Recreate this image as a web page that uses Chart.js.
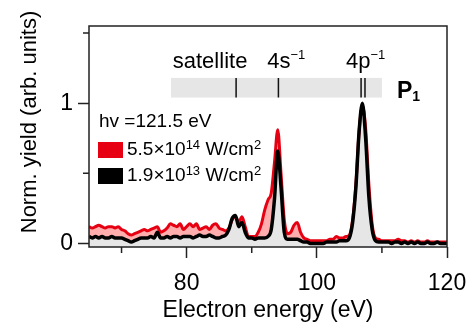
<!DOCTYPE html>
<html>
<head>
<meta charset="utf-8">
<script src="https://cdn.jsdelivr.net/npm/chart.js@4.4.0/dist/chart.umd.min.js"></script>
<style>
html, body { margin: 0; padding: 0; background: #fff; }
</style>
</head>
<body>
<canvas id="spec" width="471" height="325"></canvas>
<script>
// electron energy grid (eV)
const energy = [
  65, 65.5, 66, 66.5, 67, 67.5, 68, 68.5, 69, 69.5,
  70, 70.5, 71, 71.5, 72, 72.5, 73, 73.5, 74, 74.5,
  75, 75.5, 76, 76.5, 77, 77.5, 78, 78.5, 79, 79.5,
  80, 80.5, 81, 81.5, 82, 82.5, 83, 83.5, 84, 84.5,
  85, 85.5, 86, 86.5, 87, 87.5, 88, 88.5, 89, 89.5,
  90, 90.5, 91, 91.5, 92, 92.5, 93, 93.5, 94, 94.5,
  95, 95.5, 96, 96.5, 97, 97.5, 98, 98.5, 99, 99.5,
  100, 100.5, 101, 101.5, 102, 102.5, 103, 103.5, 104, 104.5,
  105, 105.5, 106, 106.5, 107, 107.5, 108, 108.5, 109, 109.5,
  110, 110.5, 111, 111.5, 112, 112.5, 113, 113.5, 114, 114.5,
  115, 115.5, 116, 116.5, 117, 117.5, 118, 118.5, 119, 119.5,
  120
];

// 5.5x10^14 W/cm2
const yieldHigh = [
  0.12, 0.11, 0.12, 0.13, 0.12, 0.11, 0.12, 0.12, 0.11, 0.12,
  0.10, 0.09, 0.07, 0.06, 0.07, 0.08, 0.09, 0.10, 0.09, 0.10,
  0.11, 0.12, 0.08, 0.09, 0.11, 0.14, 0.13, 0.12, 0.14, 0.10,
  0.12, 0.14, 0.12, 0.14, 0.10, 0.11, 0.12, 0.10, 0.13, 0.14,
  0.11, 0.10, 0.09, 0.11, 0.17, 0.19, 0.15, 0.19, 0.12, 0.05,
  0.05, 0.05, 0.08, 0.14, 0.24, 0.31, 0.36, 0.58, 0.81, 0.50,
  0.17, 0.07, 0.08, 0.13, 0.15, 0.08, 0.04, 0.03, 0.02, 0.02,
  0.02, 0.02, 0.02, 0.02, 0.03, 0.03, 0.05, 0.04, 0.04, 0.05,
  0.06, 0.17, 0.42, 0.80, 0.98, 0.82, 0.42, 0.14, 0.04, 0.03,
  0.02, 0.02, 0.02, 0.02, 0.02, 0.03, 0.02, 0.02, 0.01, 0.02,
  0.01, 0.02, 0.01, 0.01, 0.02, 0.01, 0.01, 0.01, 0.01, 0.01,
  0.01
];

// 1.9x10^13 W/cm2
const yieldLow = [
  0.05, 0.04, 0.05, 0.04, 0.05, 0.04, 0.04, 0.05, 0.04, 0.04,
  0.04, 0.03, 0.02, 0.01, 0.02, 0.03, 0.04, 0.04, 0.04, 0.05,
  0.04, 0.08, 0.04, 0.04, 0.05, 0.04, 0.05, 0.05, 0.04, 0.05,
  0.05, 0.05, 0.04, 0.05, 0.06, 0.05, 0.05, 0.06, 0.05, 0.04,
  0.04, 0.05, 0.06, 0.10, 0.18, 0.20, 0.12, 0.15, 0.08, 0.04,
  0.04, 0.03, 0.04, 0.04, 0.04, 0.05, 0.10, 0.32, 0.66, 0.40,
  0.08, 0.03, 0.03, 0.03, 0.03, 0.02, 0.01, 0.01, 0.00, 0.00,
  0.00, 0.00, 0.00, 0.01, 0.01, 0.01, 0.01, 0.02, 0.02, 0.02,
  0.04, 0.15, 0.40, 0.80, 1.00, 0.75, 0.33, 0.10, 0.02, 0.01,
  0.01, 0.01, 0.01, 0.00, 0.01, 0.01, 0.00, 0.01, 0.00, 0.01,
  0.00, 0.01, 0.00, 0.00, 0.01, 0.00, 0.00, 0.01, 0.00, 0.00,
  0.00
];

// ticks
const xMajor = [80, 100, 120];
const xMinor = [70, 90, 110];
const yMajor = [0, 1];
const yMinor = [0.5, 1.5];

// final states marked above the spectrum
const stateNames = ['satellite', '4s', '4p'];
const stateSups = ['', '\u22121', '\u22121'];
const stateNameAt = [83.6, 95.3, 107.5];
const stateLines = [87.6, 94.1, 106.8, 107.4];
const stateBand = [77.6, 110];

const seriesNames = ['1.9\u00d710', '5.5\u00d710'];
const seriesExps = ['13', '14'];
const photonLabel = 'hv =121.5 eV';

const FONT = '"Liberation Sans", Arial, Helvetica, sans-serif';
const RED = '#e60012';

function pts(vals) {
  return energy.map((e, i) => ({ x: e, y: vals[i] }));
}

// text with raised / lowered pieces, returns end x
function drawPieces(ctx, pieces, x, y) {
  let cx = x;
  for (const p of pieces) {
    ctx.font = (p.w || '') + ' ' + p.s + 'px ' + FONT;
    ctx.fillText(p.t, cx, y + (p.dy || 0));
    cx += ctx.measureText(p.t).width;
  }
  return cx;
}
function piecesWidth(ctx, pieces) {
  let w = 0;
  for (const p of pieces) {
    ctx.font = (p.w || '') + ' ' + p.s + 'px ' + FONT;
    w += ctx.measureText(p.t).width;
  }
  return w;
}

const extras = {
  id: 'extras',
  afterDraw(chart) {
    const { ctx, chartArea: a, scales: { x, y } } = chart;
    ctx.save();

    // frame
    ctx.strokeStyle = '#222';
    ctx.lineWidth = 1.5;
    ctx.strokeRect(a.left, a.top, a.right - a.left, a.bottom - a.top);

    // minor ticks
    ctx.beginPath();
    xMinor.forEach(v => {
      const px = x.getPixelForValue(v);
      ctx.moveTo(px, a.bottom);
      ctx.lineTo(px, a.bottom + 6);
    });
    yMinor.forEach(v => {
      const py = y.getPixelForValue(v);
      ctx.moveTo(a.left, py);
      ctx.lineTo(a.left - 6, py);
    });
    ctx.stroke();

    // band of final states
    const bx0 = x.getPixelForValue(stateBand[0]);
    const bx1 = x.getPixelForValue(stateBand[1]);
    const by0 = y.getPixelForValue(1.18);
    const by1 = y.getPixelForValue(1.04);
    ctx.fillStyle = '#e6e6e6';
    ctx.fillRect(bx0, by0, bx1 - bx0, by1 - by0);
    ctx.strokeStyle = '#111';
    ctx.lineWidth = 1.5;
    ctx.beginPath();
    stateLines.forEach(v => {
      const px = x.getPixelForValue(v);
      ctx.moveTo(px, by0);
      ctx.lineTo(px, by1);
    });
    ctx.stroke();

    ctx.fillStyle = '#000';
    ctx.textBaseline = 'alphabetic';
    ctx.textAlign = 'left';
    const ly = y.getPixelForValue(1.25);
    stateNames.forEach((n, i) => {
      const pieces = [{ t: n, s: 22 }];
      if (stateSups[i]) pieces.push({ t: stateSups[i], s: 13, dy: -9 });
      const w = piecesWidth(ctx, pieces);
      drawPieces(ctx, pieces, x.getPixelForValue(stateNameAt[i]) - w / 2, ly);
    });
    drawPieces(ctx, [{ t: 'P', s: 23, w: 'bold' }, { t: '1', s: 14, w: 'bold', dy: 3 }], bx1 + 15, by1);

    // legend
    const lx = a.left + 9;
    ctx.textBaseline = 'middle';
    drawPieces(ctx, [{ t: photonLabel, s: 19 }], lx + 1, 122);
    const rows = [{ c: RED, i: 1, yc: 150 }, { c: '#000', i: 0, yc: 176 }];
    rows.forEach(r => {
      ctx.fillStyle = r.c;
      ctx.fillRect(lx, r.yc - 8, 25, 16);
      ctx.fillStyle = '#000';
      drawPieces(ctx, [
        { t: seriesNames[r.i], s: 19 },
        { t: seriesExps[r.i], s: 13, dy: -5 },
        { t: ' W/cm', s: 19 },
        { t: '2', s: 13, dy: -5 }
      ], lx + 29, r.yc);
    });

    // y title
    ctx.save();
    ctx.translate(36, 122);
    ctx.rotate(-Math.PI / 2);
    ctx.textAlign = 'center';
    ctx.textBaseline = 'alphabetic';
    ctx.font = '22px ' + FONT;
    ctx.fillText('Norm. yield (arb. units)', 0, 0);
    ctx.restore();

    ctx.restore();
  }
};

new Chart(document.getElementById('spec'), {
  type: 'line',
  data: {
    datasets: [
      {
        label: '1.9x10^13 W/cm2',
        data: pts(yieldLow),
        borderColor: '#000',
        borderWidth: 3.5,
        backgroundColor: '#e6e6e6',
        fill: 'start'
      },
      {
        label: '5.5x10^14 W/cm2',
        data: pts(yieldHigh),
        borderColor: RED,
        borderWidth: 3,
        backgroundColor: 'rgba(255, 0, 0, 0.32)',
        fill: 'start'
      }
    ]
  },
  options: {
    responsive: false,
    animation: false,
    layout: { padding: { top: 26, right: 24, left: 0, bottom: 0 } },
    elements: {
      point: { radius: 0 },
      line: { cubicInterpolationMode: 'monotone' }
    },
    plugins: {
      legend: { display: false },
      tooltip: { enabled: false },
      filler: { drawTime: 'beforeDatasetsDraw' }
    },
    scales: {
      x: {
        type: 'linear',
        min: 65,
        max: 120,
        afterBuildTicks: s => { s.ticks = xMajor.map(v => ({ value: v })); },
        afterFit: s => { s.height = 78; s.paddingLeft = 0; s.paddingRight = 0; },
        border: { display: false },
        grid: { drawOnChartArea: false, tickLength: 11, tickWidth: 1.5, tickColor: '#222' },
        ticks: { color: '#000', font: { family: FONT, size: 23 }, padding: 12, maxRotation: 0, autoSkip: false },
        title: {
          display: true,
          text: 'Electron energy (eV)',
          color: '#000',
          font: { family: FONT, size: 23 },
          padding: { top: 0, bottom: 1 }
        }
      },
      y: {
        min: -0.025,
        max: 1.55,
        afterBuildTicks: s => { s.ticks = yMajor.map(v => ({ value: v })); },
        afterFit: s => { s.width = 89; s.paddingTop = 0; s.paddingBottom = 0; },
        border: { display: false },
        grid: { drawOnChartArea: false, tickLength: 11, tickWidth: 1.5, tickColor: '#222' },
        ticks: { color: '#000', font: { family: FONT, size: 23 }, padding: 5 }
      }
    }
  },
  plugins: [extras]
});
</script>
</body>
</html>
